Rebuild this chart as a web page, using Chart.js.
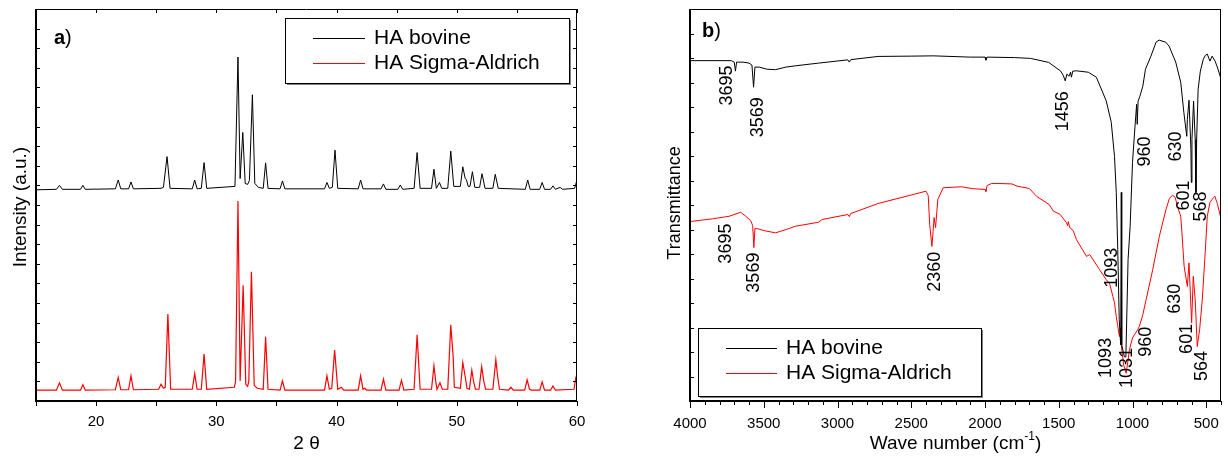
<!DOCTYPE html>
<html>
<head>
<meta charset="utf-8">
<script src="https://cdn.jsdelivr.net/npm/chart.js@4.4.1/dist/chart.umd.min.js"></script>
<style>
html, body { margin: 0; padding: 0; background: #fff; }
#wrap { position: relative; width: 1228px; height: 458px; overflow: hidden; }
canvas { position: absolute; top: 0; }
#xrd { left: 0; }
#ftir { left: 630px; }
</style>
</head>
<body>
<div id="wrap">
<canvas id="xrd" width="620" height="458"></canvas>
<canvas id="ftir" width="598" height="458"></canvas>
</div>
<script>
// a) XRD patterns, 2 theta vs intensity (bovine trace is offset upwards)
const xrdTicks = [20, 30, 40, 50, 60];
const xrdBovineAngle = [15,16.7,16.95,17.2,18.7,18.9,19.1,21.6,21.84,22.05,22.7,22.9,23.1,25.4,25.6,25.9,26.15,28.0,28.2,28.4,28.75,28.98,29.2,31.55,31.8,31.98,32.2,32.4,32.6,32.75,33.0,33.2,33.5,33.9,34.1,34.3,35.3,35.5,35.7,39.0,39.2,39.4,39.65,39.87,40.1,41.8,42.0,42.2,43.7,43.9,44.1,45.1,45.3,45.5,46.45,46.7,46.95,47.9,48.1,48.3,48.56,48.75,49.25,49.5,49.75,50.3,50.5,50.7,50.8,50.95,51.1,51.3,51.5,51.9,52.1,52.35,53.0,53.2,53.45,55.7,55.9,56.1,56.9,57.1,57.3,57.8,58.0,58.2,58.6,58.8,59.8,60];
const xrdBovineCounts = [215.5,216,220,216,216,220,216,216.5,225.5,216.5,216.5,223.5,216.5,217,218,249.4,217,216.5,225.5,216.5,217,243.3,217,219,351,227,274,222,221,225,312.5,222,218,217,243,217,216.5,224.5,216.5,216.5,223,217,218,256,217,216.5,225.5,216.5,216.5,221.5,216,216,220.4,216,217,253.5,217,217,236.5,217,223,217,217,255,219,219,239,227,226,219,219,234,218,218,232,217,217,231.3,217,216,225.5,216,216,223,216,216,219.5,216,218,216,217,225.5];
const xrdSigmaAngle = [15,16.7,16.95,17.2,18.7,18.9,19.1,21.6,21.84,22.05,22.7,22.9,23.1,25.2,25.4,25.6,25.75,25.97,26.2,28.0,28.2,28.4,28.75,28.98,29.2,31.5,31.6,31.8,31.98,32.23,32.45,32.6,32.7,32.92,33.15,33.4,33.9,34.1,34.3,35.3,35.5,35.7,39.0,39.2,39.4,39.6,39.84,40.1,40.4,40.6,41.8,42.0,42.2,42.35,42.5,43.7,43.9,44.1,45.2,45.4,45.6,46.45,46.7,46.95,47.9,48.1,48.25,48.35,48.6,48.8,49.25,49.5,49.7,49.8,50.3,50.5,50.7,50.85,51.05,51.25,51.4,51.55,51.85,52.07,52.25,52.4,53.0,53.25,53.4,53.55,54.3,54.5,54.7,55.65,55.85,56.05,56.2,56.9,57.1,57.3,57.8,58.0,58.2,59.75,59.9,60];
const xrdSigmaCounts = [11,11,18.5,11,11,16.5,11,11.5,24,11.5,11.5,25.7,11.5,12,17,13,14,88.7,12,12,28,12,12,47.8,12,14,20,204,20.5,118,17,15,20,132,16,13,12,65.6,12,11,20.5,11,11,25.7,12,13,52,12,14,11,11,25.7,12,13,11,11,22.3,11,11,21.2,11,12,67.6,12,12,36,20,12,18.5,12,12,77.8,45,14,13,39.3,25,13,12,31.5,20,12,12,35,20,12,12,42,25,12,11,14,11,11,21.6,12,11,11,19.5,11,11,15.4,11,12,23.3,20];

// b) FTIR spectra, wave number vs transmittance
const irTicks = [4000, 3500, 3000, 2500, 2000, 1500, 1000, 500];
const irBovineWave = [4000,3720,3700,3692,3684,3640,3600,3580,3569,3560,3530,3480,3420,3350,3286,3128,2930,2920,2910,2725,2500,2350,2100,2000,1994,1985,1800,1691,1568,1489,1470,1456,1445,1430,1420,1414,1405,1380,1300,1245,1178,1144,1122,1110,1100,1090,1080,1076,1073,1055,1045,1030,1016,1000,983,972,968,962,950,930,912,875,840,820,800,775,752,707,673,652,632,628,617,604,601,597,586,575,570,565,555,540,520,505,493,475,460,440,420,400];
const irBovineT = [347.3,347.3,345.8,336.6,345.8,345.8,344.8,342.7,320.2,340.7,340.7,338.6,338.1,340.7,342.0,344.8,348.1,345.8,348.3,351.6,351.9,352.2,350.9,350.9,347.8,350.9,350.4,349.6,345.5,336.9,332.5,326.6,333.5,331.4,335.5,330.4,336.6,336.9,335.5,330.4,306.2,284.4,249.6,212.8,154.5,82.9,57.3,212.8,57.3,45.0,45.0,144.2,178.0,243.5,280.3,302.8,282.3,305.9,311.0,321.2,338.6,351.9,366.2,368.3,367.3,366.2,362.1,345.8,325.3,294.6,270.1,287.5,306.9,256.8,223.0,267.0,305.9,267.0,212.8,267.0,318.2,336.6,348.8,352.9,354.0,346.8,351.9,346.8,338.6,328.4];
const irSigmaWave = [4000,3847,3735,3656,3622,3589,3575,3567,3560,3544,3500,3420,3350,3286,3129,3104,2930,2920,2910,2725,2400,2385,2375,2360,2352,2345,2335,2320,2284,2160,2080,2000,1994,1985,1955,1918,1817,1783,1700,1649,1565,1536,1490,1447,1440,1435,1426,1402,1380,1312,1290,1223,1178,1155,1133,1122,1110,1100,1093,1088,1082,1076,1060,1043,1030,1021,1000,987,965,954,930,908,863,818,773,750,729,710,696,673,665,650,628,617,599,588,575,561,545,527,510,493,475,460,450,442,425,404,400];
const irSigmaT = [183.1,185.9,188.5,192.6,188.5,184.1,179.0,156.5,175.9,175.9,173.9,171.6,174.9,178.3,182.4,185.2,190.3,188.2,191.3,201.5,214.1,209.7,180.0,157.8,172.9,187.2,177.0,205.6,217.6,218.6,216.6,215.9,213.8,219.9,222.0,222.0,221.5,219.2,216.9,208.7,200.5,193.7,190.3,181.8,179.0,183.1,177.0,173.9,164.7,147.6,149.4,134.0,123.8,119.7,106.7,100.3,86.2,76.7,69.6,65.8,74.7,57.3,36.8,28.3,41.9,52.2,64.4,67.5,72.6,76.0,88.0,103.3,134.0,168.1,195.4,206.6,210.0,207.7,198.8,188.5,171.9,137.4,116.9,140.9,79.8,127.2,103.3,55.5,72.6,103.3,144.2,188.5,202.6,205.6,207.7,209.0,201.5,188.5,185.2];

// band labels (text, where it sits in wave number / transmittance units)
const bovineBandText = ['3695', '3569', '1456', '1093', '960', '630', '601', '568'];
const bovineBandWave = [3752, 3537, 1473, 1137, 916, 708, 648, 534];
const bovineBandLevel = [322, 289.5, 295.6, 136, 254.7, 259.8, 209.7, 198.5];
const sigmaBandText = ['3695', '3569', '2360', '1093', '1031', '960', '630', '601', '564'];
const sigmaBandWave = [3759, 3565, 2337, 1178, 1037, 910, 715, 628, 527];
const sigmaBandLevel = [160.6, 131, 132, 44, 33.8, 60.4, 104.3, 63.4, 35.8];

const FONT = "'Liberation Sans', Arial, Helvetica, sans-serif";
Chart.defaults.font.family = FONT;
Chart.defaults.color = '#000';

function pts(xs, ys) {
  return xs.map((x, i) => ({ x: x, y: ys[i] }));
}

// frame, ticks, legend and text that Origin-style plots carry
const framePlugin = {
  id: 'frame',
  afterDraw(chart, args, o) {
    const ctx = chart.ctx;
    const a = chart.chartArea;
    const sx = chart.scales.x, sy = chart.scales.y;
    const L = Math.round(a.left), R = Math.round(a.right);
    const T = Math.round(a.top), B = Math.round(a.bottom);

    function seg(x1, y1, x2, y2, w) {
      ctx.lineWidth = w;
      ctx.beginPath();
      ctx.moveTo(x1, y1);
      ctx.lineTo(x2, y2);
      ctx.stroke();
    }

    ctx.save();
    ctx.strokeStyle = '#000';
    seg(L, T + 0.5, R, T + 0.5, 1);
    seg(R - 0.5, T, R - 0.5, B, 1);
    seg(L - 1, B, R, B, 2);
    seg(L, T, L, B + 1, 2);

    sx.ticks.forEach(t => {
      const p = Math.round(sx.getPixelForValue(t.value)) + 0.5;
      const len = o.xLabels.includes(t.value) ? o.majorLen : o.minorLen;
      seg(p, B, p, B + len, 1);
      if (o.topTicks) seg(p, T, p, T + 4, 1);
    });
    sy.ticks.forEach(t => {
      const p = Math.round(sy.getPixelForValue(t.value)) + 0.5;
      seg(L, p, L + 4, p, 1);
      if (o.rightTicks) seg(R, p, R - 4, p, 1);
    });

    // legend box with shadow
    const lg = o.legend;
    ctx.fillStyle = '#808080';
    ctx.fillRect(lg.x + 2, lg.y + 2, lg.w, lg.h);
    ctx.fillStyle = '#fff';
    ctx.fillRect(lg.x, lg.y, lg.w, lg.h);
    ctx.strokeStyle = '#000';
    ctx.lineWidth = 1;
    ctx.strokeRect(lg.x + 0.5, lg.y + 0.5, lg.w, lg.h);
    ctx.font = lg.size + 'px ' + FONT;
    ctx.textBaseline = 'middle';
    ctx.textAlign = 'left';
    chart.data.datasets.forEach((ds, i) => {
      const ry = lg.rows[i];
      ctx.strokeStyle = ds.borderColor;
      seg(lg.lineX1, ry + 0.5, lg.lineX2, ry + 0.5, 1);
      ctx.fillStyle = '#000';
      ctx.fillText(ds.label, lg.textX, ry);
    });

    // panel letter
    ctx.fillStyle = '#000';
    ctx.font = 'bold 20px ' + FONT;
    ctx.fillText(o.panel, o.panelX, o.panelY);
    const pw = ctx.measureText(o.panel).width;
    ctx.font = '20px ' + FONT;
    ctx.fillText(')', o.panelX + pw, o.panelY);

    // axis titles
    ctx.font = o.yTitleSize + 'px ' + FONT;
    ctx.textAlign = 'center';
    ctx.save();
    ctx.translate(o.yTitleX, o.yTitleY);
    ctx.rotate(-Math.PI / 2);
    ctx.fillText(o.yTitle, 0, 0);
    ctx.restore();

    const cx = (a.left + a.right) / 2;
    const ty = B + 43;
    if (o.xTitleSup) {
      ctx.textAlign = 'left';
      ctx.font = '19px ' + FONT;
      const w1 = ctx.measureText(o.xTitle).width;
      const w3 = ctx.measureText(o.xTitleEnd).width;
      ctx.font = '12px ' + FONT;
      const w2 = ctx.measureText(o.xTitleSup).width;
      let x0 = cx - (w1 + w2 + w3) / 2;
      ctx.font = '19px ' + FONT;
      ctx.fillText(o.xTitle, x0, ty);
      ctx.font = '12px ' + FONT;
      ctx.fillText(o.xTitleSup, x0 + w1, ty - 7);
      ctx.font = '19px ' + FONT;
      ctx.fillText(o.xTitleEnd, x0 + w1 + w2, ty);
    } else {
      ctx.font = '19px ' + FONT;
      ctx.fillText(o.xTitle, cx, ty);
    }

    // band assignments, written upwards
    if (o.bands) {
      ctx.font = '18px ' + FONT;
      ctx.textAlign = 'center';
      ctx.fillStyle = '#000';
      o.bands.forEach(set => {
        set.text.forEach((s, i) => {
          const px = sx.getPixelForValue(set.wave[i]);
          const py = sy.getPixelForValue(set.level[i]);
          ctx.save();
          ctx.translate(px, py);
          ctx.rotate(-Math.PI / 2);
          ctx.fillText(s, 0, 0);
          ctx.restore();
        });
      });
    }
    ctx.restore();
  }
};

function lineSet(label, data, color, width) {
  return {
    label: label,
    data: data,
    borderColor: color,
    borderWidth: width,
    pointRadius: 0,
    tension: 0,
    fill: false
  };
}

// a) XRD
new Chart(document.getElementById('xrd'), {
  type: 'line',
  data: {
    datasets: [
      lineSet('HA bovine', pts(xrdBovineAngle, xrdBovineCounts), '#000000', 1),
      lineSet('HA Sigma-Aldrich', pts(xrdSigmaAngle, xrdSigmaCounts), '#ff0000', 1.2)
    ]
  },
  options: {
    responsive: false,
    animation: false,
    events: [],
    layout: { padding: { top: 9, right: 43, left: 0, bottom: 0 } },
    plugins: {
      legend: { display: false },
      tooltip: { enabled: false },
      frame: {
        xLabels: xrdTicks, majorLen: 5, minorLen: 5, topTicks: true, rightTicks: true,
        legend: { x: 285, y: 18, w: 284, h: 65, lineX1: 313, lineX2: 365, textX: 374, rows: [38, 63], size: 21 },
        panel: 'a', panelX: 54, panelY: 38,
        yTitle: 'Intensity (a.u.)', yTitleX: 21, yTitleY: 207, yTitleSize: 19,
        xTitle: '2 \u03b8'
      }
    },
    scales: {
      x: {
        type: 'linear', min: 15, max: 60,
        ticks: { stepSize: 5, autoSkip: false, maxRotation: 0, padding: 7, font: { size: 15 },
          callback: v => xrdTicks.includes(v) ? String(v) : '' },
        grid: { display: false, drawTicks: true, tickLength: 5 },
        border: { display: false },
        afterFit: s => { s.height = 57; }
      },
      y: {
        min: 0, max: 400,
        ticks: { stepSize: 20, display: false },
        grid: { display: false },
        border: { display: false },
        afterFit: s => { s.width = 36; }
      }
    }
  },
  plugins: [framePlugin]
});

// b) FTIR
new Chart(document.getElementById('ftir'), {
  type: 'line',
  data: {
    datasets: [
      lineSet('HA bovine', pts(irBovineWave, irBovineT), '#000000', 1),
      lineSet('HA Sigma-Aldrich', pts(irSigmaWave, irSigmaT), '#ff0000', 1)
    ]
  },
  options: {
    responsive: false,
    animation: false,
    events: [],
    layout: { padding: { top: 9, right: 1, left: 0, bottom: 0 } },
    plugins: {
      legend: { display: false },
      tooltip: { enabled: false },
      frame: {
        xLabels: irTicks, majorLen: 7, minorLen: 4, topTicks: false, rightTicks: false,
        legend: { x: 68, y: 328, w: 283, h: 68, lineX1: 96, lineX2: 147, textX: 156, rows: [348, 373], size: 21 },
        panel: 'b', panelX: 72, panelY: 31,
        yTitle: 'Transmittance', yTitleX: 45, yTitleY: 203, yTitleSize: 18,
        xTitle: 'Wave number (cm', xTitleSup: '-1', xTitleEnd: ')',
        bands: [
          { text: bovineBandText, wave: bovineBandWave, level: bovineBandLevel },
          { text: sigmaBandText, wave: sigmaBandWave, level: sigmaBandLevel }
        ]
      }
    },
    scales: {
      x: {
        type: 'linear', min: 400, max: 4000, reverse: true,
        ticks: { stepSize: 100, autoSkip: false, maxRotation: 0, padding: 7, font: { size: 15 },
          callback: v => irTicks.includes(v) ? String(v) : '' },
        grid: { display: false, drawTicks: true, tickLength: 7 },
        border: { display: false },
        afterFit: s => { s.height = 57; }
      },
      y: {
        min: 0, max: 400,
        ticks: { stepSize: 25, display: false },
        grid: { display: false },
        border: { display: false },
        afterFit: s => { s.width = 60; }
      }
    }
  },
  plugins: [framePlugin]
});
</script>
</body>
</html>
